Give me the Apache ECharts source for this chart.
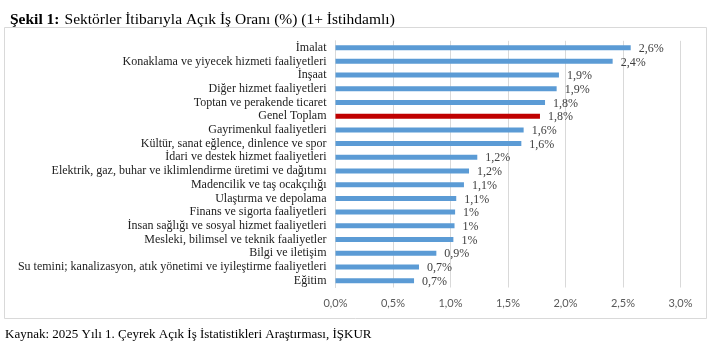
<!DOCTYPE html>
<html><head><meta charset="utf-8">
<script src="https://cdn.jsdelivr.net/npm/echarts@6/dist/echarts.min.js"></script>
<style>html,body{margin:0;padding:0;background:#fff}#c{width:720px;height:360px}</style>
</head><body><div id="c"></div>
<script>
const categories = [
  "İmalat",
  "Konaklama ve yiyecek hizmeti faaliyetleri",
  "İnşaat",
  "Diğer hizmet faaliyetleri",
  "Toptan ve perakende ticaret",
  "Genel Toplam",
  "Gayrimenkul faaliyetleri",
  "Kültür, sanat eğlence, dinlence ve spor",
  "İdari ve destek hizmet faaliyetleri",
  "Elektrik, gaz, buhar ve iklimlendirme üretimi ve dağıtımı",
  "Madencilik ve taş ocakçılığı",
  "Ulaştırma ve depolama",
  "Finans ve sigorta faaliyetleri",
  "İnsan sağlığı ve sosyal hizmet faaliyetleri",
  "Mesleki, bilimsel ve teknik faaliyetler",
  "Bilgi ve iletişim",
  "Su temini; kanalizasyon, atık yönetimi ve iyileştirme faaliyetleri",
  "Eğitim"
];
const values = [2.567, 2.41, 1.943, 1.923, 1.822, 1.778, 1.636, 1.616, 1.233, 1.161, 1.117, 1.05, 1.04, 1.035, 1.025, 0.877, 0.726, 0.683];
const highlightCategory = "Genel Toplam";
const xTicks = [0, 0.5, 1.0, 1.5, 2.0, 2.5, 3.0];

const fmtVal = v => {
  const r = Math.round(v * 10) / 10;
  let s = r.toFixed(1).replace('.', ',');
  if (s.endsWith(',0')) s = s.slice(0, -2);
  return s + '%';
};

const chart = echarts.init(document.getElementById('c'), null, {renderer: 'canvas'});
chart.setOption({
  animation: false,
  backgroundColor: '#fff',
  title: {
    left: 5, top: 6,
    text: '{b|Şekil 1:} {n|Sektörler İtibarıyla Açık İş Oranı (%) (1+ İstihdamlı)}',
    textStyle: {
      fontWeight: 'normal',
      rich: {
        b: {fontFamily: 'Liberation Serif', fontWeight: 'bold', fontSize: 15.5, color: '#000'},
        n: {fontFamily: 'Liberation Serif', fontWeight: 'normal', fontSize: 15.5, color: '#000'}
      }
    }
  },
  graphic: [
    {type: 'rect', shape: {x: 4.5, y: 27.5, width: 702, height: 291}, style: {fill: 'none', stroke: '#D9D9D9', lineWidth: 1}, z: -1},
    {type: 'text', left: 5, top: 328, style: {text: 'Kaynak: 2025 Yılı 1. Çeyrek Açık İş İstatistikleri Araştırması, İŞKUR', font: '13px "Liberation Serif"', fill: '#000'}}
  ],
  grid: {left: 335.5, right: 39.5, top: 40.8, bottom: 72.5, containLabel: false},
  xAxis: {
    type: 'value', min: 0, max: 3, interval: 0.5,
    axisLine: {show: false}, axisTick: {show: false},
    splitLine: {lineStyle: {color: '#D9D9D9', width: 1}},
    axisLabel: {
      color: '#595959', fontFamily: 'Lato', fontSize: 11, margin: 10,
      formatter: v => xTicks.includes(v) ? v.toFixed(1).replace('.', ',') + '%' : ''
    }
  },
  yAxis: {
    type: 'category', data: categories, inverse: true,
    axisLine: {show: true, lineStyle: {color: '#D9D9D9'}},
    axisTick: {show: false},
    axisLabel: {interval: 0, color: '#222', fontFamily: 'Liberation Serif', fontSize: 12, margin: 9}
  },
  series: [{
    type: 'bar', barWidth: 5,
    data: values.map((v, i) => ({
      value: v,
      itemStyle: {color: categories[i] === highlightCategory ? '#C00000' : '#5B9BD5'}
    })),
    label: {
      show: true, position: 'right', distance: 8, offset: [0, 1],
      color: '#404040', fontFamily: 'Liberation Serif', fontSize: 12,
      formatter: p => fmtVal(p.value)
    }
  }]
});
</script></body></html>
